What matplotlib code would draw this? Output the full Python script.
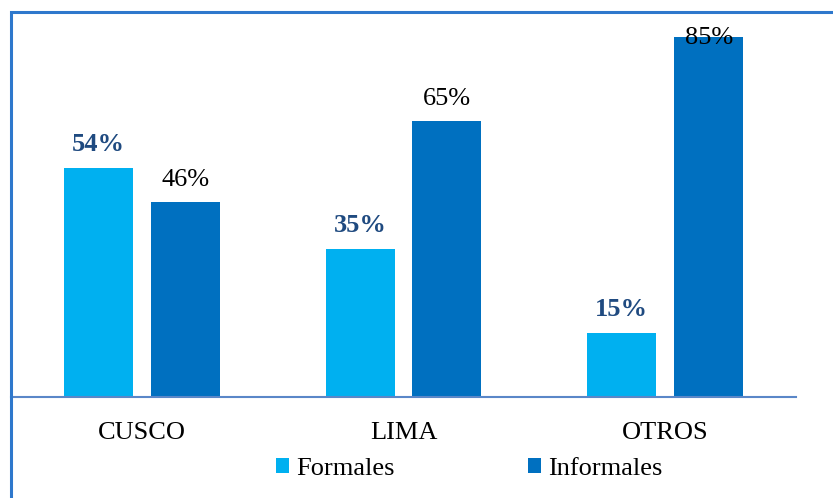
import numpy as np
import matplotlib
matplotlib.use("Agg")
from matplotlib import pyplot as plt
from matplotlib.patches import Rectangle

categories = ["CUSCO", "LIMA", "OTROS"]
formales = [54, 35, 15]
informales = [46, 65, 85]
series_names = ["Formales", "Informales"]

plt.rcParams['font.family'] = ['Liberation Serif', 'DejaVu Serif']

W, H = 833, 498
fig = plt.figure(figsize=(W / 100, H / 100), dpi=100)

# plot area in pixels: x 11..796, baseline at y 397
ax = fig.add_axes([11 / W, (H - 397) / H, 785 / W, 381.6 / H])

x = np.arange(len(categories))
bw = 69 / 261.7
gap = 18 / 261.7
off = (bw + gap) / 2

ax.bar(x - off, formales, bw, color="#00B0F0", label=series_names[0])
ax.bar(x + off, informales, bw, color="#0070C0", label=series_names[1])

ax.set_xlim(-0.5, 2.5)
ax.set_ylim(0, 90)

for i in range(len(categories)):
    ax.text(x[i] - off, formales[i] + 4, "%d%%" % formales[i], ha="center", va="baseline",
            fontsize=19, fontweight="bold", color="#1F4A80")
    yy = min(informales[i] + 3.8, 83.3)
    ax.text(x[i] + off, yy, "%d%%" % informales[i], ha="center", va="baseline",
            fontsize=19, color="black")

for s in ["top", "right", "left"]:
    ax.spines[s].set_visible(False)
ax.spines["bottom"].set_color("#5A87C8")
ax.spines["bottom"].set_linewidth(1.5)
ax.set_yticks([])
ax.set_xticks(x)
ax.set_xticklabels(categories, fontsize=19)
ax.tick_params(axis="x", length=0, pad=18)

leg = fig.legend(loc="center", bbox_to_anchor=(469 / W, 1 - 469 / H), ncol=2, frameon=False,
                 fontsize=19, handlelength=0.5, handleheight=0.5, handletextpad=0.27,
                 columnspacing=5.05)

# outer frame (right and bottom edges fall outside the image)
fig.patches.append(Rectangle((10.5 / W, -0.1), 1.2, 1.1 - 12.5 / H, transform=fig.transFigure,
                             fill=False, edgecolor="#2E78CC", linewidth=2.2, zorder=10))

fig.savefig("out.png", dpi=100)
